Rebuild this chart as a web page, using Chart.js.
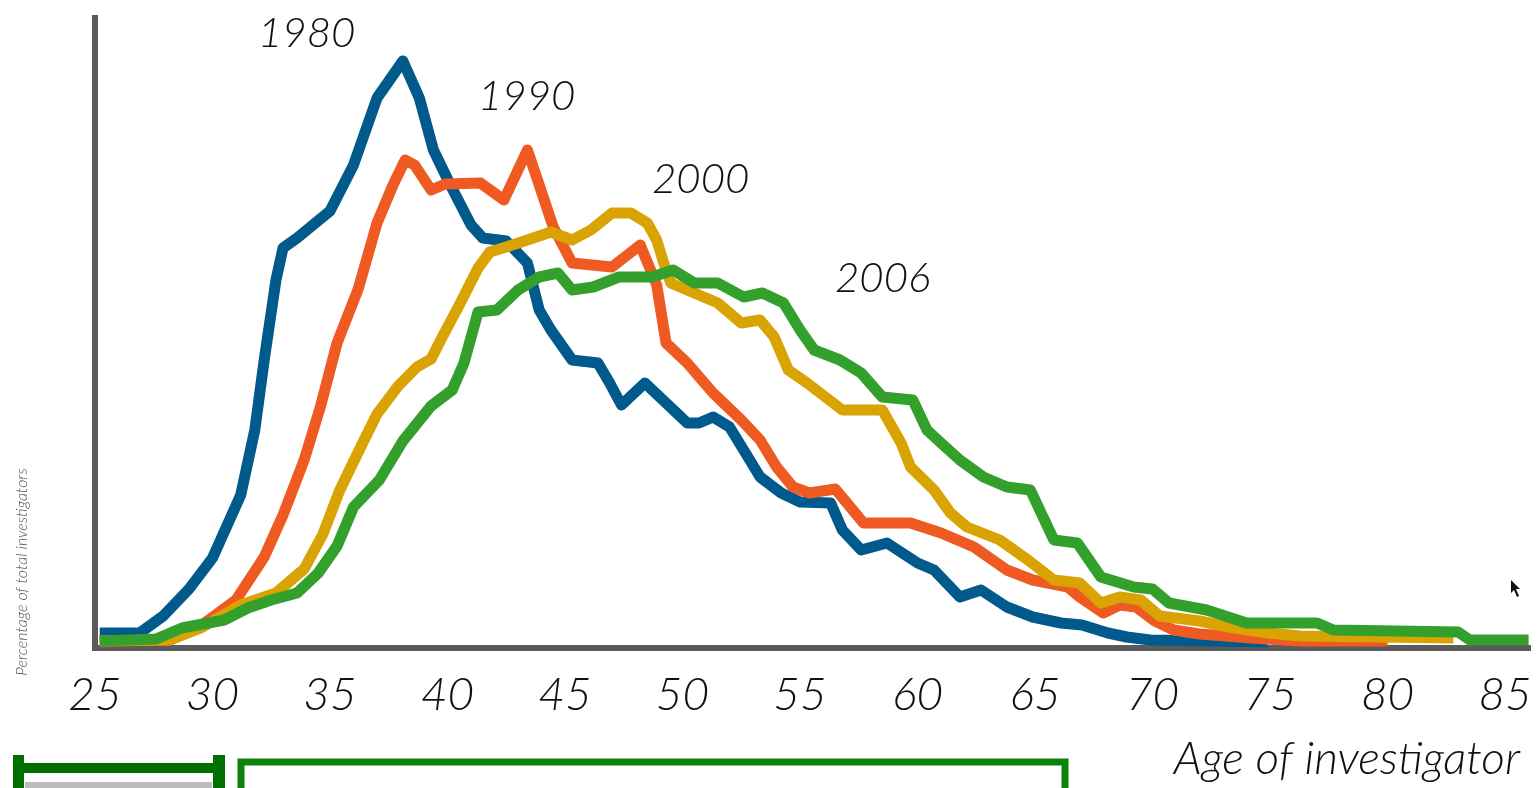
<!DOCTYPE html>
<html><head><meta charset="utf-8">
<script src="https://cdn.jsdelivr.net/npm/chart.js@4.4.0/dist/chart.umd.min.js"></script>
<style>html,body{margin:0;padding:0;background:#fff;overflow:hidden}#wrap{width:1539px;height:788px;position:relative}</style>
</head><body><div id="wrap"><canvas id="c" width="1539" height="788"></canvas></div>
<script>
// Age of investigator (x) and percentage of total investigators (y)
const ages1980 = [25.2,26.9,27.9,29.0,30.0,31.2,31.8,32.2,32.7,33.0,33.6,35.0,36.0,37.0,38.1,38.8,39.4,40.1,41.0,41.5,42.5,43.4,43.9,44.4,45.3,46.4,46.9,47.4,48.4,49.3,50.2,50.7,51.3,52.0,52.6,53.3,54.2,55.0,56.3,56.8,57.6,58.7,60.0,60.7,61.8,62.7,63.8,64.9,66.1,67.0,68.1,68.9,69.9,74.9];
const pct1980  = [0.15,0.15,0.32,0.59,0.90,1.53,2.18,2.88,3.68,4.00,4.10,4.37,4.83,5.50,5.87,5.50,4.98,4.64,4.23,4.10,4.07,3.85,3.38,3.18,2.88,2.85,2.65,2.43,2.65,2.45,2.25,2.25,2.31,2.21,1.98,1.71,1.55,1.46,1.45,1.18,0.98,1.05,0.85,0.78,0.51,0.58,0.41,0.31,0.25,0.23,0.15,0.11,0.08,0.06];

const ages1990 = [25.2,28.2,29.5,31.0,32.2,33.0,33.9,34.6,35.3,36.2,37.0,37.7,38.2,38.6,39.3,39.9,41.4,42.4,43.4,43.9,44.5,45.3,47.0,48.2,48.9,49.3,50.2,51.3,52.5,53.3,54.0,54.7,55.4,56.5,57.7,59.7,61.0,62.4,63.8,64.9,66.4,66.9,67.9,68.6,69.3,70.1,70.9,72.0,74.2,76.3,80.0];
const pct1990  = [0.07,0.08,0.22,0.48,0.91,1.33,1.88,2.42,3.05,3.59,4.25,4.64,4.88,4.83,4.58,4.64,4.65,4.48,4.98,4.63,4.21,3.85,3.81,4.03,3.63,3.05,2.85,2.55,2.28,2.08,1.81,1.61,1.55,1.59,1.25,1.25,1.15,1.01,0.78,0.68,0.61,0.51,0.35,0.43,0.41,0.27,0.18,0.14,0.10,0.07,0.07];

const ages2000 = [25.2,28.2,29.5,31.2,32.7,33.9,34.7,35.4,36.2,37.0,37.9,38.7,39.3,39.8,40.5,41.3,41.8,42.5,43.4,44.4,45.3,46.1,47.0,47.8,48.5,48.9,49.2,49.5,50.5,51.5,52.5,53.3,53.9,54.5,55.3,56.8,58.5,59.3,59.7,60.7,61.4,62.1,63.5,64.7,65.8,66.9,67.8,68.6,69.5,70.3,72.0,73.2,74.9,76.3,82.8];
const pct2000  = [0.07,0.08,0.20,0.43,0.55,0.79,1.14,1.57,1.96,2.34,2.62,2.81,2.89,3.12,3.43,3.80,3.96,4.01,4.08,4.16,4.08,4.18,4.35,4.35,4.25,4.08,3.85,3.65,3.55,3.45,3.25,3.28,3.11,2.78,2.65,2.38,2.38,2.05,1.81,1.58,1.35,1.21,1.08,0.88,0.68,0.65,0.45,0.51,0.48,0.32,0.27,0.21,0.15,0.12,0.10];

const ages2006 = [25.2,27.6,28.7,30.5,31.5,32.5,33.6,34.5,35.3,36.0,37.1,38.1,39.3,40.2,40.7,41.3,42.1,43.0,43.9,44.7,45.3,46.2,47.3,48.7,49.6,50.5,51.5,52.6,53.4,54.3,55.0,55.6,56.7,57.6,58.5,59.8,60.4,61.0,61.8,62.8,63.8,64.8,65.8,66.8,67.8,69.2,70.0,70.7,72.3,74.0,77.0,77.7,83.0,83.5,86.0];
const pct2006  = [0.07,0.09,0.20,0.28,0.40,0.48,0.55,0.75,1.02,1.41,1.68,2.07,2.42,2.58,2.85,3.36,3.38,3.58,3.71,3.75,3.58,3.61,3.71,3.71,3.78,3.65,3.65,3.51,3.55,3.45,3.18,2.98,2.88,2.75,2.51,2.48,2.18,2.05,1.88,1.71,1.61,1.58,1.08,1.05,0.71,0.61,0.59,0.45,0.38,0.25,0.25,0.18,0.16,0.08,0.08];

const seriesNames = ['1980','1990','2000','2006'];
const xTicks = [25,30,35,40,45,50,55,60,65,70,75,80,85];

const toPts = (a, v) => a.map((x, i) => ({x: x, y: v[i]}));
const colors = ['#005a8c','#ef5a22','#d9a304','#33a02c'];
const allAges = [ages1980, ages1990, ages2000, ages2006];
const allPct = [pct1980, pct1990, pct2000, pct2006];

const datasets = seriesNames.map((n, i) => ({
  label: n,
  data: toPts(allAges[i], allPct[i]),
  borderColor: colors[i],
  backgroundColor: colors[i],
  borderWidth: 11,
  borderJoinStyle: 'round',
  borderCapStyle: 'butt',
  pointRadius: 0,
  tension: 0,
  fill: false,
  order: 3 - i
}));

const labelFont = 'italic 300 42px Lato, "DejaVu Sans", sans-serif';
const annot = {
  id: 'annot',
  afterDraw(chart) {
    const c = chart.ctx;
    c.save();
    c.fillStyle = '#111';
    c.textBaseline = 'alphabetic';
    c.textAlign = 'left';
    c.font = labelFont;
    c.fillText(seriesNames[0], 258, 47);
    c.fillText(seriesNames[1], 478, 110);
    c.fillText(seriesNames[2], 652, 193);
    c.fillText(seriesNames[3], 835, 292);
    c.font = 'italic 300 46px Lato, "DejaVu Sans", sans-serif';
    c.textAlign = 'right';
    c.fillText('Age of investigator', 1520, 774);
    // y title
    c.save();
    c.translate(27, 572);
    c.rotate(-Math.PI / 2);
    c.textAlign = 'center';
    c.fillStyle = '#555';
    c.font = 'italic 300 16px Lato, "DejaVu Sans", sans-serif';
    c.fillText('Percentage of total investigators', 0, 0);
    c.restore();
    // bottom brackets
    c.fillStyle = '#006e00';
    c.fillRect(13, 763, 212, 10);
    c.fillRect(13, 755, 11, 40);
    c.fillRect(213, 755, 12, 40);
    c.fillStyle = '#bdbdbd';
    c.fillRect(25, 782, 187, 10);
    c.strokeStyle = '#0b820b';
    c.lineWidth = 7;
    c.beginPath();
    c.moveTo(241, 800); c.lineTo(241, 762); c.lineTo(1065, 762); c.lineTo(1065, 800);
    c.stroke();
    // cursor
    c.fillStyle = '#111';
    c.beginPath();
    c.moveTo(1511, 580); c.lineTo(1511, 593); c.lineTo(1514, 590); c.lineTo(1517, 597);
    c.lineTo(1519, 596); c.lineTo(1516, 589); c.lineTo(1520, 589); c.closePath();
    c.fill();
    c.restore();
  }
};

new Chart(document.getElementById('c').getContext('2d'), {
  type: 'line',
  data: { datasets: datasets },
  options: {
    responsive: false,
    animation: false,
    devicePixelRatio: 1,
    layout: { padding: { left: 0, right: 9, top: 18, bottom: 0 } },
    plugins: { legend: { display: false }, tooltip: { enabled: false } },
    scales: {
      x: {
        type: 'linear', min: 25, max: 86.06,
        afterFit(s) { s.height = 140; s.paddingLeft = 0; s.paddingRight = 0; },
        afterBuildTicks(s) { s.ticks = xTicks.map(v => ({ value: v })); },
        grid: { display: false },
        border: { display: true, color: '#5b5b5b', width: 6 },
        ticks: {
          stepSize: 5, includeBounds: false, autoSkip: false, maxRotation: 0, minRotation: 0,
          padding: 12, color: '#111',
          font: { family: 'Lato, "DejaVu Sans", sans-serif', size: 46, style: 'italic', weight: '300' }
        }
      },
      y: {
        min: 0, max: 6.3,
        afterFit(s) { s.width = 95; },
        grid: { display: false },
        border: { display: true, color: '#5b5b5b', width: 6 },
        ticks: { display: false }
      }
    }
  },
  plugins: [annot]
});
</script></body></html>
